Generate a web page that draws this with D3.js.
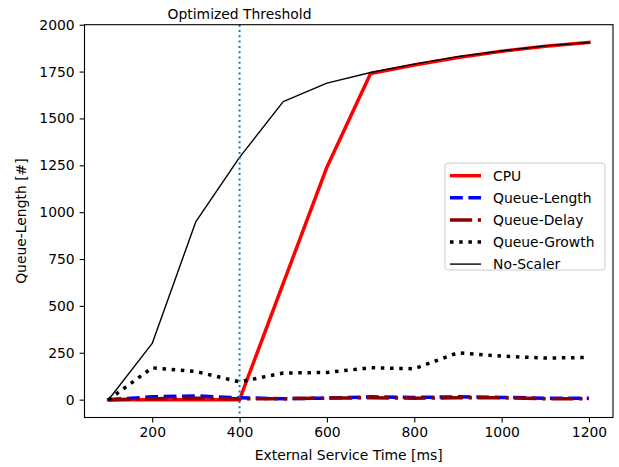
<!DOCTYPE html>
<html><head><meta charset="utf-8">
<script src="https://cdn.jsdelivr.net/npm/d3@7"></script>
<style>body{margin:0;background:#fff}svg{display:block;font-family:"DejaVu Sans",sans-serif}</style>
</head><body><svg id="c" width="619" height="467"></svg>
<script>
const xs = [100,200,300,400,500,600,700,800,900,1000,1100,1200];
const cpu = [0,0,0,0,620,1240,1740,1785,1825,1858,1885,1905];
const queueLength = [0,15,20,10,5,8,15,12,15,12,8,8];
const queueDelay = [0,5,8,5,5,8,10,8,10,10,5,5];
const queueGrowth = [0,170,150,95,142,145,170,165,250,232,222,225];
const noScaler = [0,300,950,1292,1590,1688,1745,1790,1830,1860,1887,1905];
const xTicks = [200,400,600,800,1000,1200];
const yTicks = [0,250,500,750,1000,1250,1500,1750,2000];
const threshold = 400;

const series = [
  {name:"CPU", v:cpu, color:"#ff0000", w:3.5, dash:null},
  {name:"Queue-Length", v:queueLength, color:"#0000ff", w:3.5, dash:"12.8,5.6"},
  {name:"Queue-Delay", v:queueDelay, color:"#8b0000", w:3.5, dash:"22.2,5.6,3.5,5.6"},
  {name:"Queue-Growth", v:queueGrowth, color:"#000000", w:3.5, dash:"3.5,5.7"},
  {name:"No-Scaler", v:noScaler, color:"#000000", w:1.4, dash:null}
];

const L=84.5, R=613, T=24.7, B=417.5;
const x = d3.scaleLinear().domain([45,1255]).range([L,R]);
const y = d3.scaleLinear().domain([-95.25,2000]).range([B,T]);
const svg = d3.select("#c");
const fs = "13.9px";

const g = svg.append("g");
const line = d3.line().x((d,i)=>x(xs[i])).y(d=>y(d));
series.forEach(s=>{
  g.append("path").attr("d", line(s.v)).attr("fill","none")
   .attr("stroke", s.color).attr("stroke-width", s.w)
   .attr("stroke-dasharray", s.dash).attr("stroke-linejoin","round")
   .attr("stroke-linecap", s.dash ? "butt" : "square");
});
g.append("line").attr("x1",x(threshold)).attr("x2",x(threshold)).attr("y1",T).attr("y2",B)
 .attr("stroke","#1f77b4").attr("stroke-width",2).attr("stroke-dasharray","2,3.3");

// axes
const xa = svg.append("g").attr("transform",`translate(0,${B})`)
  .call(d3.axisBottom(x).tickValues(xTicks).tickSize(4.9).tickPadding(4.9).tickFormat(d3.format("d")));
const ya = svg.append("g").attr("transform",`translate(${L},0)`)
  .call(d3.axisLeft(y).tickValues(yTicks).tickSize(4.9).tickPadding(4.9).tickFormat(d3.format("d")));
[xa,ya].forEach(a=>{
  a.select(".domain").remove();
  a.selectAll("text").attr("font-size",fs).attr("font-family","DejaVu Sans").attr("fill","#000");
  a.selectAll("line").attr("stroke","#000").attr("stroke-width",1.1);
});
svg.append("rect").attr("x",L).attr("y",T).attr("width",R-L).attr("height",B-T)
  .attr("fill","none").attr("stroke","#000").attr("stroke-width",1.1);

svg.append("text").attr("x",x(threshold)).attr("y",19).attr("text-anchor","middle")
  .attr("font-size",fs).text("Optimized Threshold");
svg.append("text").attr("x",(L+R)/2).attr("y",460).attr("text-anchor","middle")
  .attr("font-size",fs).text("External Service Time [ms]");
svg.append("text").attr("transform",`translate(25.5,${(T+B)/2}) rotate(-90)`).attr("text-anchor","middle")
  .attr("font-size",fs).text("Queue-Length [#]");

// legend
const lg = svg.append("g");
lg.append("rect").attr("x",445).attr("y",163).attr("width",160).attr("height",107).attr("rx",3)
  .attr("fill","#fff").attr("fill-opacity",0.8).attr("stroke","#cccccc").attr("stroke-width",1);
series.forEach((s,i)=>{
  const yy = 175.7 + i*22.1;
  lg.append("line").attr("x1",450).attr("x2",481).attr("y1",yy).attr("y2",yy)
    .attr("stroke",s.color).attr("stroke-width",s.w).attr("stroke-dasharray",s.dash);
  lg.append("text").attr("x",493).attr("y",yy+5).attr("font-size",fs).text(s.name);
});
</script></body></html>
